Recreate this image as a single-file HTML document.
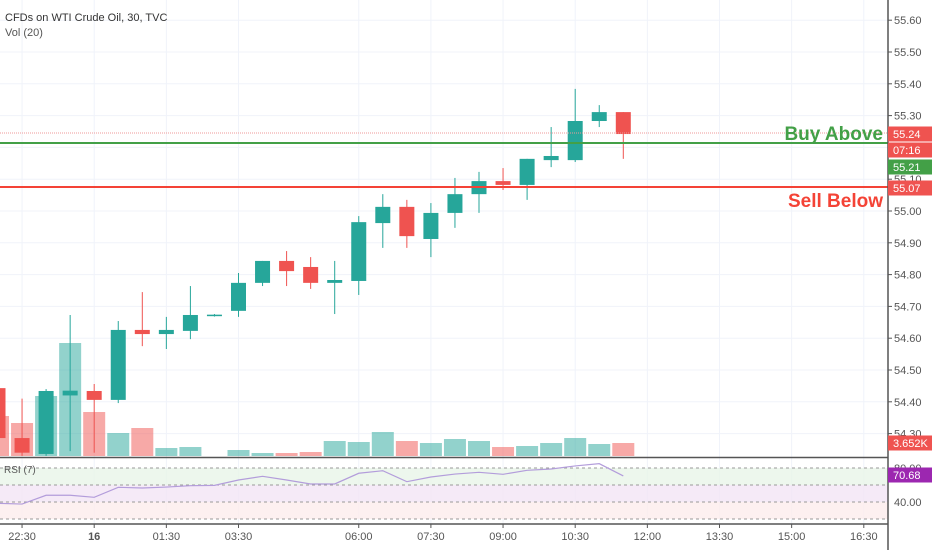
<!DOCTYPE html>
<html><head><meta charset="utf-8"><style>
body{margin:0;background:#fff;font-family:"Liberation Sans",sans-serif}
svg{display:block}
</style></head><body>
<svg id="c" width="932" height="550" xmlns="http://www.w3.org/2000/svg">
<rect x="0" y="0" width="932" height="550" fill="#fff"/>
<g id="grid"></g>
<g id="rsiBg"></g>
<g id="vol"></g>
<g id="candles"></g>
<g id="rsi"></g>
<line x1="0" y1="133" x2="888" y2="133" stroke="#ef9a9a" stroke-width="1" stroke-dasharray="1,1"/>
<line x1="0" y1="143" x2="888" y2="143" stroke="#43a047" stroke-width="2"/>
<line x1="0" y1="187" x2="888" y2="187" stroke="#f44336" stroke-width="2"/>
<text x="883" y="140" text-anchor="end" font-size="19" font-weight="bold" fill="#43a047">Buy Above</text>
<text x="883" y="207" text-anchor="end" font-size="19" font-weight="bold" fill="#f44336">Sell Below</text>
<line x1="0" y1="457.5" x2="888" y2="457.5" stroke="#555" stroke-width="1.5"/>
<line x1="0" y1="524" x2="888" y2="524" stroke="#555" stroke-width="1.5"/>
<line x1="888" y1="0" x2="888" y2="550" stroke="#555" stroke-width="1.5"/>
<g id="axis"></g>
<text x="5" y="21" font-size="11" fill="#333">CFDs on WTI Crude Oil, 30, TVC</text>
<text x="5" y="36" font-size="11" fill="#555">Vol (20)</text>
<text x="4" y="473" font-size="10" fill="#555">RSI (7)</text>
<g id="tags"></g>
</svg>
<script>
const opens=[54.443,54.286,54.236,54.420,54.434,54.406,54.626,54.613,54.623,54.671,54.686,54.774,54.843,54.824,54.774,54.780,54.962,55.013,54.912,54.994,55.053,55.094,55.082,55.160,55.160,55.283,55.311];
const highs=[54.460,54.410,54.440,54.673,54.456,54.654,54.745,54.667,54.764,54.676,54.805,54.843,54.874,54.855,54.843,54.984,55.053,55.035,55.025,55.104,55.123,55.135,55.164,55.264,55.384,55.333,55.311];
const lows=[54.280,54.230,54.230,54.245,54.240,54.396,54.575,54.566,54.597,54.668,54.667,54.764,54.764,54.755,54.676,54.736,54.884,54.884,54.855,54.947,54.994,55.066,55.035,55.138,55.154,55.264,55.164];
const closes=[54.286,54.240,54.434,54.435,54.406,54.626,54.613,54.626,54.673,54.674,54.774,54.843,54.811,54.774,54.783,54.965,55.013,54.921,54.994,55.053,55.094,55.082,55.164,55.173,55.283,55.311,55.242];
const volumes=[40,33,60,113,44,23,28,8,9,0,6,3,3,4,15,14,24,15,13,17,15,9,10,13,18,12,13];
const rsiVals=[38.5,37.6,47.9,47.9,45.5,57.3,56.5,57.6,59.2,59.6,65.9,70.2,65.9,61.2,61.2,73.8,76.8,63.9,69.4,72.9,74.9,72.6,77.3,78.8,82.4,85.1,70.7];
const priceTicks=[54.30,54.40,54.50,54.60,54.70,54.80,54.90,55.00,55.10,55.20,55.30,55.40,55.50,55.60];
const timeLabels=["22:30","16","01:30","03:30","06:00","07:30","09:00","10:30","12:00","13:30","15:00","16:30"];
const timeIdx=[1,4,7,10,15,18,21,24,27,30,33,36];
const rsiLevels=[80,60,40,20];
const rsiTickLabels=["80.00","40.00"];
const rsiTickVals=[80,40];

const NS="http://www.w3.org/2000/svg";
const xOf=i=>-2+i*24.05;
const yP=p=>211-(p-55.0)*318;
const yV=v=>456-v*1.0;
const yR=v=>502-(v-40)*0.85;
function mk(t,a,parent){const e=document.createElementNS(NS,t);for(const k in a)e.setAttribute(k,a[k]);document.getElementById(parent).appendChild(e);return e;}
const UP="#26a69a",DN="#ef5350";

// grid
priceTicks.forEach((p,i)=>{
 const l=mk("line",{x1:0,x2:888,y1:yP(p),y2:yP(p),stroke:"#f0f3fa","stroke-width":1},"grid");
 
 
 const t=mk("text",{x:894,y:yP(p)+4,"font-size":11,fill:"#555"},"axis");
 t.textContent=p.toFixed(2);
 
 
 const tk=mk("line",{x1:888,x2:892,y1:yP(p),y2:yP(p),stroke:"#555"},"axis");
 
 
});
timeLabels.forEach((s,i)=>{
 const x=xOf(timeIdx[i]);
 const l=mk("line",{x1:x,x2:x,y1:0,y2:524,stroke:"#f0f3fa","stroke-width":1},"grid");
 
 
 const t=mk("text",{x:x,y:540,"font-size":11,fill:"#555","text-anchor":"middle","font-weight":s==="16"?"bold":"normal"},"axis");
 t.textContent=s;
 
 
 const tk=mk("line",{x1:x,x2:x,y1:524,y2:528,stroke:"#555"},"axis");
 
 
});
// rsi background bands
const bandCols=["#e8f5e9","#f3e5f5","#fdecec"];
for(let i=0;i<3;i++){
 const r=mk("rect",{x:0,y:yR(rsiLevels[i]),width:888,height:yR(rsiLevels[i+1])-yR(rsiLevels[i]),fill:bandCols[i],opacity:0.8},"rsiBg");
 
 
}
rsiLevels.forEach(v=>{
 const l=mk("line",{x1:0,x2:888,y1:yR(v),y2:yR(v),stroke:"#999","stroke-dasharray":"3,3","stroke-width":1},"rsiBg");
 
 
});
rsiTickVals.forEach((v,i)=>{
 const t=mk("text",{x:894,y:yR(v)+4,"font-size":11,fill:"#555"},"axis");
 t.textContent=rsiTickLabels[i];
 
 
});
// volume
volumes.forEach((v,i)=>{
 const up=closes[i]>=opens[i];
 const r=mk("rect",{x:xOf(i)-11,y:yV(v),width:22,height:456-yV(v),fill:up?"rgba(38,166,154,0.5)":"rgba(239,83,80,0.5)"},"vol");
 
 
});
// candles
opens.forEach((o,i)=>{
 const c=closes[i],up=c>=o,col=up?UP:DN,x=xOf(i);
 const w=mk("line",{x1:x,x2:x,y1:yP(highs[i]),y2:yP(lows[i]),stroke:col,"stroke-width":1},"candles");
 
 
 const top=yP(Math.max(o,c)),bot=yP(Math.min(o,c));
 const b=mk("rect",{x:x-7.5,y:top,width:15,height:Math.max(bot-top,1.5),fill:col},"candles");
 
 
});
// rsi line
const pts=rsiVals.map((v,i)=>xOf(i)+","+yR(v)).join(" ");
const pl=mk("polyline",{points:pts,fill:"none",stroke:"#b39ddb","stroke-width":1.2},"rsi");


// tags
function tag(y,txt,col,name){
 const r=mk("rect",{x:888,y:y-7.5,width:44,height:15,fill:col},"tags");
 
 
 const t=mk("text",{x:893,y:y+4,"font-size":11,fill:"#fff"},"tags");
 t.textContent=txt;
 
 
}
tag(134,"55.24","#ef5350","last-price-tag");
tag(150,"07:16","#ef5350","countdown-tag");
tag(167,"55.21","#43a047","buy-above-tag");
tag(188,"55.07","#ef5350","sell-below-tag");
tag(443,"3.652K","#ef5350","volume-tag");
tag(475,"70.68","#9c27b0","rsi-value-tag");
</script>
</body></html>
